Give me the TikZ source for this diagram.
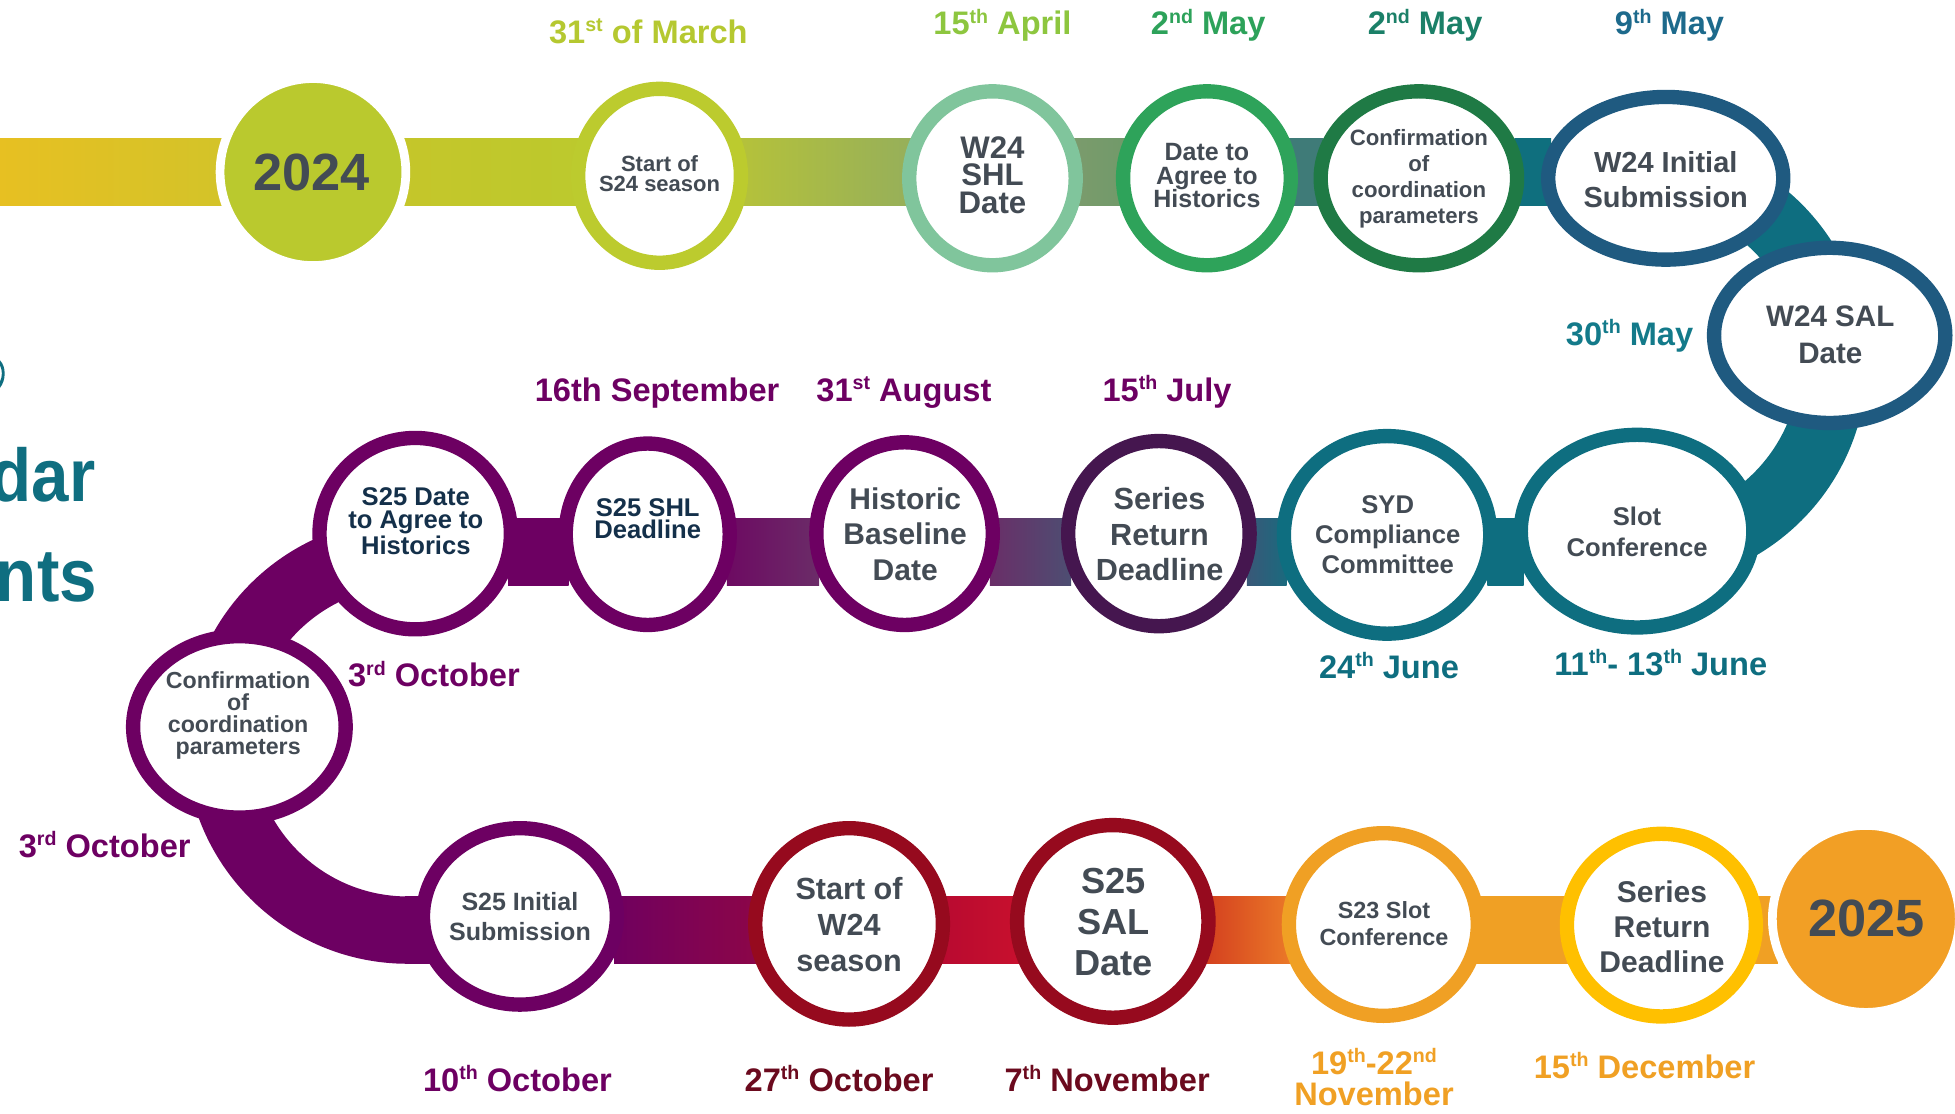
\documentclass[tikz,border=0pt]{standalone}
\usepackage{fontspec}
\setmainfont{Liberation Sans}
\newfontfamily\titlefont[FakeStretch=0.9]{Liberation Sans}
\usetikzlibrary{shapes.geometric,calc}
\pgfdeclarelayer{bg}
\pgfsetlayers{bg,main}
\definecolor{txt}{HTML}{434B54}
\definecolor{navy}{HTML}{14304A}
\definecolor{cTeal}{HTML}{0E6E80}
\definecolor{cTitle}{HTML}{0F6E80}
\definecolor{cLime}{HTML}{BCCB2E}
\definecolor{cLgreen}{HTML}{80C59C}
\definecolor{cGreen}{HTML}{2EA35A}
\definecolor{cDgreen}{HTML}{1F7A45}
\definecolor{cBlue}{HTML}{1F5A80}
\definecolor{cDpurp}{HTML}{45164F}
\definecolor{cPurp}{HTML}{6D0062}
\definecolor{cRed}{HTML}{960A1E}
\definecolor{cOrange}{HTML}{F0A024}
\definecolor{cYellow}{HTML}{FFC000}
\definecolor{c2024}{HTML}{BAC92E}
\definecolor{c2025}{HTML}{F29F25}
\definecolor{gA}{HTML}{E7C022}
\definecolor{gB}{HTML}{D3C329}
\definecolor{gC}{HTML}{C5C62A}
\definecolor{gD}{HTML}{BCC92D}
\definecolor{gE}{HTML}{B5C23A}
\definecolor{gF}{HTML}{96AF5A}
\definecolor{gG}{HTML}{7B9B6C}
\definecolor{gH}{HTML}{719A6A}
\definecolor{gI}{HTML}{3F7B78}
\definecolor{gJ}{HTML}{0F6F7E}
\definecolor{mA}{HTML}{3A5878}
\definecolor{mB}{HTML}{1A6A7E}
\definecolor{mC}{HTML}{6A2E68}
\definecolor{mD}{HTML}{4D4E72}
\definecolor{mE}{HTML}{6D0A62}
\definecolor{mF}{HTML}{6B2C68}
\definecolor{bA}{HTML}{70005F}
\definecolor{bB}{HTML}{8C0648}
\definecolor{bC}{HTML}{B80A30}
\definecolor{bD}{HTML}{C8102E}
\definecolor{bE}{HTML}{D4401F}
\definecolor{bF}{HTML}{EB7A28}
\definecolor{lLime}{HTML}{B5C830}
\definecolor{lApr}{HTML}{8DC63F}
\definecolor{lMay1}{HTML}{2DA25A}
\definecolor{lMay2}{HTML}{1B8068}
\definecolor{lMay3}{HTML}{1D6A8C}
\definecolor{lMay4}{HTML}{137A8A}
\definecolor{lDred}{HTML}{6B0A1E}
\newcommand\bandseg[6]{\shade[left color=#5, right color=#6] ($(#1.east |- #3)+(-8,0)$) rectangle ($(#2.west |- #4)+(8,0)$);}
\newcommand\sps[1]{\raisebox{0.36em}{\fontsize{9.8}{9.8}\selectfont #1}}
\begin{document}
\begin{tikzpicture}[x=0.6234pt, y=-0.6234pt,
  ring/.style n args={3}{shape=ellipse, draw=#1, line width=7.17pt, fill=white, inner sep=0pt,
     minimum width={(#2-11.5)*0.6234pt}, minimum height={(#3-11.5)*0.6234pt}},
  yr/.style n args={3}{shape=ellipse, fill=#1, draw=white, line width=4.36pt, inner sep=0pt,
     minimum width={(#2+7)*0.6234pt}, minimum height={(#3+7)*0.6234pt}},
  ctext/.style 2 args={align=center, text=txt, inner sep=0pt, font=\bfseries\fontsize{#1}{#2}\selectfont},
  dlabel/.style={anchor=base, inner sep=0pt, align=center, font=\bfseries\fontsize{16.3}{14}\selectfont},
  titlefrag/.style={anchor=base east, inner sep=0pt, text=cTitle, font=\titlefont\bfseries\fontsize{37.4}{37.4}\selectfont},
  arcband/.style={line width=33.66pt, draw=#1}
]
\useasboundingbox (0,0) rectangle (1568,893);

% ---------- milestone shapes ----------
\node[yr={c2024}{142}{143}] (y24) at (251,138) {};
\node[ring={cLime}{142}{151}] (s24) at (529,141) {};
\node[ring={cLgreen}{145}{151}] (shl) at (796,143) {};
\node[ring={cGreen}{146}{151}] (dta) at (968,143) {};
\node[ring={cDgreen}{169}{151}] (cf1) at (1138,143) {};
\node[ring={cBlue}{200}{142}] (w24i) at (1336,143) {};
\node[ring={cBlue}{197}{152}] (w24s) at (1467.5,269) {};
\node[ring={cTeal}{198}{166}] (slot) at (1313,426) {};
\node[ring={cTeal}{177}{170}] (syd) at (1112.5,429) {};
\node[ring={cDpurp}{157}{160}] (srm) at (929.5,428) {};
\node[ring={cPurp}{153}{158}] (hbd) at (725.5,428) {};
\node[ring={cPurp}{143}{157}] (s25h) at (519.5,428.5) {};
\node[ring={cPurp}{165}{165}] (s25d) at (333,428) {};
\node[ring={cPurp}{182}{157}] (cf2) at (192,583) {};
\node[ring={cPurp}{167}{153}] (s25i) at (417,735) {};
\node[ring={cRed}{162}{165}] (sw24) at (681,741) {};
\node[ring={cRed}{165}{166}] (s25s) at (892.5,739) {};
\node[ring={cOrange}{163}{158}] (s23) at (1109.5,741.5) {};
\node[ring={cYellow}{163}{158}] (srb) at (1332.5,742) {};
\node[yr={c2025}{143}{143}] (y25) at (1496.5,737) {};

% ---------- band ----------
\begin{pgfonlayer}{bg}
\coordinate (T1) at (0,111); \coordinate (T2) at (0,165);
\coordinate (M1) at (0,416); \coordinate (M2) at (0,470);
\coordinate (B1) at (0,719); \coordinate (B2) at (0,773);
\shade[left color=gA, right color=gB] (T1) rectangle ($(y24.west |- T2)+(8,0)$);
\bandseg{y24}{s24}{T1}{T2}{gC}{gD}
\bandseg{s24}{shl}{T1}{T2}{gE}{gF}
\bandseg{shl}{dta}{T1}{T2}{gG}{gH}
\bandseg{dta}{cf1}{T1}{T2}{gI}{gI}
\bandseg{cf1}{w24i}{T1}{T2}{gJ}{gJ}
\coordinate (rtop) at (1318,138);
\draw[arcband=cTeal] (rtop) arc[start angle=-90, end angle=90, radius=152.5];
\bandseg{syd}{slot}{M1}{M2}{cTeal}{cTeal}
\bandseg{srm}{syd}{M1}{M2}{mA}{mB}
\bandseg{hbd}{srm}{M1}{M2}{mC}{mD}
\bandseg{s25h}{hbd}{M1}{M2}{mE}{mF}
\bandseg{s25d}{s25h}{M1}{M2}{cPurp}{cPurp}
\coordinate (ltop) at (327,443);
\draw[arcband=cPurp] (ltop) arc[start angle=-90, end angle=-270, radius=151.5];
\coordinate (lb) at (325,719);
\fill[cPurp] (lb) rectangle (s25i.center |- B2);
\bandseg{s25i}{sw24}{B1}{B2}{bA}{bB}
\bandseg{sw24}{s25s}{B1}{B2}{bC}{bD}
\bandseg{s25s}{s23}{B1}{B2}{bE}{bF}
\bandseg{s23}{srb}{B1}{B2}{cOrange}{cOrange}
\bandseg{srb}{y25}{B1}{B2}{cOrange}{cOrange}
\end{pgfonlayer}

% ---------- texts in shapes ----------
\node[ctext={26.2}{26}] (t24) at (250,138) {2024};
\node[ctext={11}{10}] (ts24) at (529,139) {Start of\\S24 season};
\node[ctext={15.6}{13.7}] (tshl) at (796,140.5) {W24\\SHL\\Date};
\node[ctext={12.5}{11.8}] (tdta) at (968,141) {Date to\\Agree to\\Historics};
\node[ctext={11.1}{13.1}] (tcf1) at (1138,143.5) {Confirmation\\of\\coordination\\parameters};
\node[ctext={14.5}{17.5}] (tw24i) at (1336,144) {W24 Initial\\Submission};
\node[ctext={14.8}{18.1}] (tw24s) at (1468,268.5) {W24 SAL\\Date};
\node[ctext={12.8}{15.6}] (tslot) at (1313,426.5) {Slot\\Conference};
\node[ctext={12.8}{15}] (tsyd) at (1113,429) {SYD\\Compliance\\Committee};
\node[ctext={15.3}{17.8}] (tsrm) at (930,428.5) {Series\\Return\\Deadline};
\node[ctext={15}{17.8}] (thbd) at (726,428.5) {Historic\\Baseline\\Date};
\node[ctext={12.8}{11.2}, text=navy] (ts25h) at (519.5,416) {S25 SHL\\Deadline};
\node[ctext={12.8}{11.8}, text=navy] (ts25d) at (333.5,418) {S25 Date\\to Agree to\\Historics};
\node[ctext={11.6}{10.9}] (tcf2) at (191,574) {Confirmation\\of\\coordination\\parameters};
\node[ctext={12.5}{15}] (ts25i) at (417,735) {S25 Initial\\Submission};
\node[ctext={15.3}{17.8}] (tsw24) at (681,741.5) {Start of\\W24\\season};
\node[ctext={18.1}{20.3}] (ts25s) at (893,739.5) {S25\\SAL\\Date};
\node[ctext={11.7}{13.7}] (ts23) at (1110,741) {S23 Slot\\Conference};
\node[ctext={15}{17.5}] (tsrb) at (1333,743) {Series\\Return\\Deadline};
\node[ctext={26.2}{26}] (t25) at (1497,737) {2025};

% ---------- date labels ----------
\node[dlabel, text=lLime] (d1) at (520,35) {31\sps{st} of March};
\node[dlabel, text=lApr] (d2) at (804,28) {15\sps{th} April};
\node[dlabel, text=lMay1] (d3) at (969,28) {2\sps{nd} May};
\node[dlabel, text=lMay2] (d4) at (1143,28) {2\sps{nd} May};
\node[dlabel, text=lMay3] (d5) at (1339,28) {9\sps{th} May};
\node[dlabel, text=lMay4] (d6) at (1307,277) {30\sps{th} May};
\node[dlabel, text=cPurp] (d7) at (527,322) {16th September};
\node[dlabel, text=cPurp] (d8) at (725,322) {31\sps{st} August};
\node[dlabel, text=cPurp] (d9) at (936,322) {15\sps{th} July};
\node[dlabel, text=cTeal] (d10) at (1114,544) {24\sps{th} June};
\node[dlabel, text=cTeal] (d11) at (1332,541.5) {11\sps{th}- 13\sps{th} June};
\node[dlabel, text=cPurp] (d12) at (348,551) {3\sps{rd} October};
\node[dlabel, text=cPurp] (d13) at (84,687.5) {3\sps{rd} October};
\node[dlabel, text=cPurp] (d14) at (415,875.5) {10\sps{th} October};
\node[dlabel, text=lDred] (d15) at (673,875.5) {27\sps{th} October};
\node[dlabel, text=lDred] (d16) at (888,875.5) {7\sps{th} November};
\node[dlabel, text=cOrange, anchor=center, font=\bfseries\fontsize{16.3}{15.6}\selectfont] (d17) at (1102,864) {19\sps{th}-22\sps{nd}\\November};
\node[dlabel, text=cOrange] (d18) at (1319,864.7) {15\sps{th} December};

% ---------- cropped title fragments at the left edge ----------
\node[titlefrag] (fdar) at (77,402.5) {dar};
\node[titlefrag] (fnts) at (78,482.6) {nts};
\fill[cTitle] (0,289) .. controls (5,294) and (5,305) .. (0,311) -- (0,306) .. controls (2,302) and (2,297) .. (0,293) -- cycle;
\end{tikzpicture}
\end{document}
